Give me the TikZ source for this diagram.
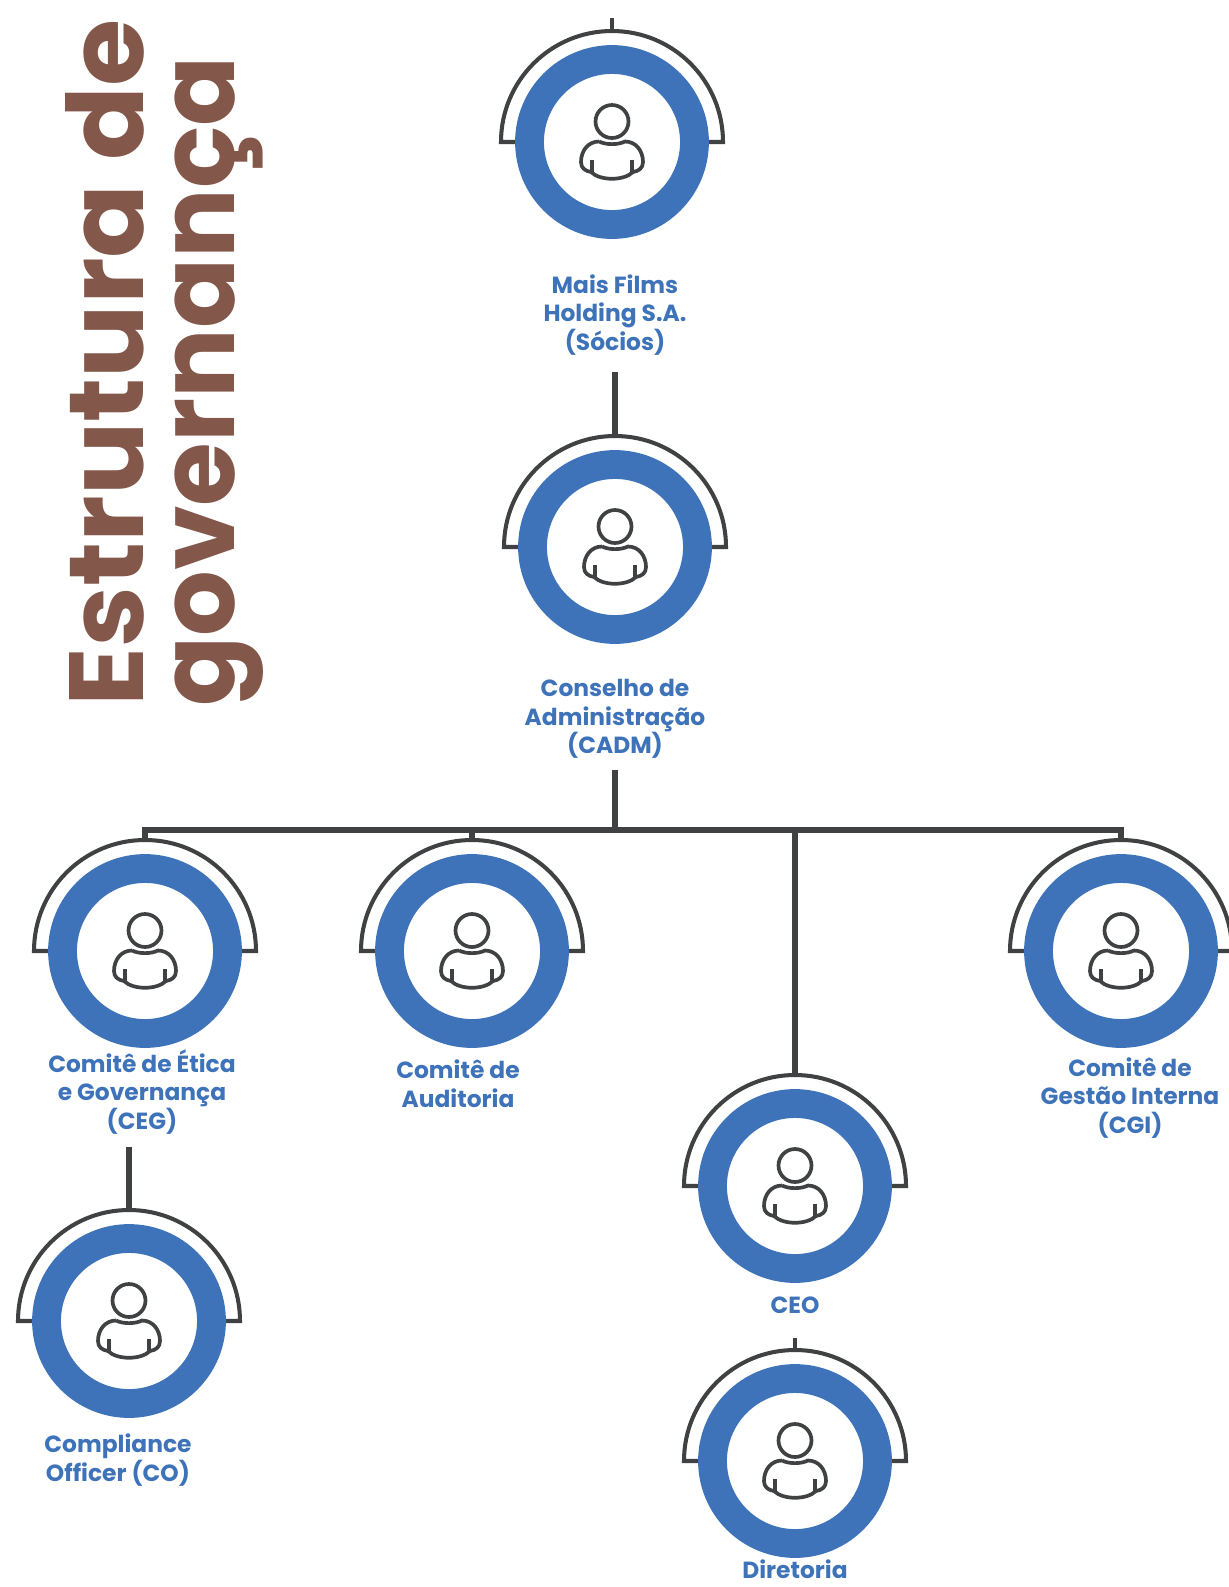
\documentclass[tikz,border=0pt]{standalone}
\usepackage{fontspec}
\setmainfont{Poppins}
\definecolor{ringblue}{HTML}{3E73B9}
\definecolor{linegray}{HTML}{3F4143}
\definecolor{titlebrown}{HTML}{83574A}
\tikzset{
    x=0.02cm, y=0.02cm,
    link/.style={draw=linegray, line width=3pt},
    thinlink/.style={draw=linegray, line width=2.2pt},
    unitlabel/.style={align=center, text=ringblue, inner sep=0pt, font=\fontsize{13.3}{16.3}\selectfont\bfseries},
    titleline/.style={rotate=90, anchor=base west, inner sep=0pt, text=titlebrown, font=\fontsize{60}{60}\selectfont\bfseries},
    unitmark/.pic={
        % Hood behind the ring
        \draw[draw=linegray, line width=2.3pt] (-97,0) -- (-111,0) arc[start angle=180, end angle=0, radius=111] -- (97,0);
        \coordinate (-top) at (0,111);
        \node[circle, draw=ringblue, line width=16.4pt, fill=white, minimum size=3.3cm, inner sep=0pt] (-ring) at (0,0) {};
        % Person icon
        \node[circle, draw=linegray, line width=2.1pt, minimum size=0.66cm, inner sep=0pt] (-head) at (0,20.5) {};
        \draw[draw=linegray, line width=2.1pt, line join=round] (-13,0.5) .. controls (-6,-3) and (6,-3) .. (13,0.5)
            .. controls (24,0.5) and (31,-9) .. (31,-20) .. controls (31,-26) and (27,-29) .. (21,-30)
            .. controls (12,-39) and (-12,-39) .. (-21,-30) .. controls (-27,-29) and (-31,-26) .. (-31,-20)
            .. controls (-31,-9) and (-24,0.5) .. (-13,0.5);
        \draw[draw=linegray, line width=2.1pt] (-20,-18) -- (-20,-30);
        \draw[draw=linegray, line width=2.1pt] (20,-18) -- (20,-30);
    }
}
\begin{document}
\begin{tikzpicture}
    \useasboundingbox (0,0) rectangle (1229,-1587);

    % Title
    \node[titleline, xscale=1.034] (title1) at (143,-707) {Estrutura de};
    \node[titleline, xscale=0.98] (title2) at (234,-707) {governança};

    % Units
    \pic (socios) at (612,-142) {unitmark};
    \pic (cadm) at (615,-547) {unitmark};
    \pic (ceg) at (145,-951) {unitmark};
    \pic (aud) at (472,-951) {unitmark};
    \pic (cgi) at (1121,-951) {unitmark};
    \pic (ceo) at (795,-1186) {unitmark};
    \pic (dir) at (795,-1461) {unitmark};
    \pic (co) at (129,-1321) {unitmark};

    % Labels
    \node[unitlabel] (socioslabel) at (615,-315) {Mais Films\\Holding S.A.\\(Sócios)};
    \node[unitlabel] (cadmlabel) at (615,-719) {Conselho de\\Administração\\(CADM)};
    \node[unitlabel] (ceglabel) at (142,-1092) {Comitê de Ética\\e Governança\\(CEG)};
    \node[unitlabel] (audlabel) at (458,-1084) {Comitê de\\Auditoria};
    \node[unitlabel] (cgilabel) at (1130,-1098) {Comitê de\\Gestão Interna\\(CGI)};
    \node[unitlabel] (ceolabel) at (795,-1305) {CEO};
    \node[unitlabel, anchor=base] (dirlabel) at (795,-1578) {Diretoria};
    \node[unitlabel] (colabel) at (118,-1460) {Compliance\\Officer (CO)};

    % Free line ends
    \coordinate (sociosup) at (612,-18);
    \coordinate (cadmup) at (615,-372);
    \coordinate (cadmdown) at (615,-770);
    \coordinate (bus) at (615,-830);
    \coordinate (coup) at (129,-1147);
    \coordinate (dirup) at (795,-1338);

    % Connect nodes
    \draw[thinlink] (sociosup) -- (socios-top);
    \draw[link] (cadmup) -- (cadm-top);
    \draw[link] (cadmdown) -- (bus);
    \draw[link] (ceg-top) |- (bus);
    \draw[link] (aud-top) |- (bus);
    \draw[link] (ceo-top) |- (bus);
    \draw[link] (cgi-top) |- (bus);
    \draw[link] (coup) -- (co-top);
    \draw[thinlink] (dirup) -- (dir-top);
\end{tikzpicture}
\end{document}
